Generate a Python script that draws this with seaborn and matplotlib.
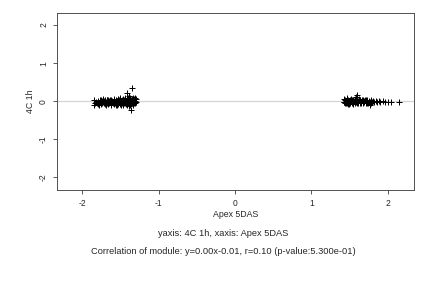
import numpy as np
import pandas as pd
import matplotlib
matplotlib.use("Agg")
import matplotlib.pyplot as plt
import seaborn as sns

# ------------------------------------------------------------
# data (two clusters of module genes)
# ------------------------------------------------------------
left_x = [-1.85, -1.84, -1.83, -1.82, -1.80, -1.79, -1.78, -1.77, -1.76, -1.75,
          -1.74, -1.73, -1.72, -1.71, -1.70, -1.69, -1.68, -1.67, -1.66, -1.65,
          -1.64, -1.63, -1.62, -1.61, -1.60, -1.59, -1.58, -1.57, -1.56, -1.55,
          -1.54, -1.53, -1.52, -1.51, -1.50, -1.49, -1.48, -1.47, -1.46, -1.45,
          -1.44, -1.43, -1.42, -1.42, -1.41, -1.40, -1.39, -1.39, -1.38, -1.37,
          -1.37, -1.36, -1.35, -1.35, -1.34, -1.33, -1.32, -1.31, -1.36, -1.30,
          -1.81, -1.78, -1.75, -1.72, -1.70, -1.68, -1.65, -1.63, -1.60, -1.58,
          -1.55, -1.53, -1.51, -1.49, -1.47, -1.45, -1.43, -1.41, -1.40, -1.38,
          -1.36, -1.34, -1.33, -1.32, -1.31, -1.30, -1.48, -1.52, -1.57, -1.62,
          -1.66, -1.74, -1.44, -1.46, -1.50, -1.54, -1.56, -1.42, -1.39, -1.35,
          -1.33, -1.31]
left_y = [-0.09, 0.03, -0.06, -0.02, -0.07, 0.00, -0.04, 0.02, -0.08, -0.03,
          0.01, 0.05, -0.06, -0.01, 0.03, -0.09, -0.04, 0.02, -0.07, 0.00,
          0.04, -0.10, -0.03, 0.01, -0.06, 0.05, -0.08, -0.02, 0.03, -0.11,
          -0.05, 0.06, -0.01, -0.08, 0.07, -0.03, 0.02, -0.09, 0.04, -0.06,
          0.08, -0.02, 0.22, -0.10, 0.05, -0.04, 0.14, -0.12, 0.01, 0.09,
          -0.07, -0.03, 0.35, 0.06, -0.09, 0.03, -0.05, 0.08, -0.22, -0.01,
          -0.04, -0.09, 0.02, 0.00, -0.08, 0.04, -0.05, 0.02, -0.01, 0.04,
          0.00, -0.07, 0.04, -0.10, 0.05, 0.01, -0.08, -0.01, 0.07, -0.10,
          0.04, 0.00, -0.07, 0.05, -0.04, 0.06, -0.06, 0.03, -0.06, -0.07,
          0.03, -0.05, -0.04, -0.01, -0.04, 0.01, -0.09, 0.03, 0.02, -0.05,
          0.09, 0.01]

right_x = [1.42, 1.43, 1.44, 1.45, 1.46, 1.47, 1.48, 1.49, 1.50, 1.51,
           1.52, 1.53, 1.54, 1.55, 1.56, 1.57, 1.58, 1.58, 1.59, 1.60,
           1.60, 1.61, 1.62, 1.63, 1.64, 1.65, 1.66, 1.67, 1.68, 1.69,
           1.70, 1.71, 1.72, 1.73, 1.74, 1.75, 1.76, 1.77, 1.78, 1.79,
           1.80, 1.82, 1.84, 1.86, 1.88, 1.90, 1.93, 1.96, 2.00, 2.04,
           2.15, 1.43, 1.45, 1.47, 1.49, 1.51, 1.53, 1.55, 1.57, 1.59,
           1.61, 1.63, 1.65, 1.67, 1.69, 1.71, 1.73, 1.75, 1.78, 1.44,
           1.46, 1.48, 1.50, 1.52]
right_y = [-0.03, 0.05, -0.06, 0.00, 0.07, -0.04, 0.02, -0.07, 0.04, -0.02,
           0.01, -0.05, 0.03, -0.08, 0.00, 0.05, 0.10, -0.03, 0.02, 0.15,
           -0.06, 0.01, 0.06, -0.04, 0.02, -0.02, 0.04, -0.06, 0.01, -0.03,
           0.03, -0.05, 0.00, 0.02, -0.04, 0.01, -0.11, -0.02, 0.02, -0.03,
           0.00, -0.02, 0.01, -0.03, 0.00, -0.02, 0.01, -0.01, -0.02, -0.01,
           -0.01, -0.01, -0.05, 0.03, 0.00, -0.06, 0.02, -0.01, -0.05, -0.01,
           -0.04, 0.03, -0.06, 0.02, 0.01, 0.02, -0.06, -0.03, -0.05, 0.03,
           -0.02, -0.07, -0.01, 0.05]

x_label = "Apex 5DAS"
y_label = "4C 1h"
line1 = "yaxis: 4C 1h, xaxis: Apex 5DAS"
line2 = "Correlation of module: y=0.00x-0.01, r=0.10 (p-value:5.300e-01)"

df = pd.DataFrame({"x": left_x + right_x, "y": left_y + right_y})

# ------------------------------------------------------------
# figure
# ------------------------------------------------------------
sns.set_style("white")
plt.rcParams['font.family'] = ['Liberation Sans', 'DejaVu Sans']

fig = plt.figure(figsize=(6, 4), dpi=72)
ax = fig.add_axes([0.132, 0.340, 0.826, 0.615])

ax.axhline(0, color='#d3d3d3', linewidth=1.2, zorder=1)
sns.scatterplot(data=df, x="x", y="y", marker="+", color="black",
                s=30, linewidth=1.0, ax=ax, zorder=2)

ax.set_xlim(-2.33, 2.34)
ax.set_ylim(-2.34, 2.32)
ax.set_xticks([-2, -1, 0, 1, 2])
ax.set_yticks([-2, -1, 0, 1, 2])
ax.set_xticklabels(["-2", "-1", "0", "1", "2"])
ax.set_yticklabels(["-2", "-1", "0", "1", "2"], rotation=90, va='center')
ax.tick_params(direction='out', length=4, width=0.8, color='#333333',
               labelsize=8.5, pad=5, left=True, bottom=True)
for s in ax.spines.values():
    s.set_color('#444444')
    s.set_linewidth(0.9)

ax.set_xlabel(x_label, fontsize=8.8, labelpad=2)
ax.set_ylabel(y_label, fontsize=8.8, labelpad=4)

fig.text(0.516, 1 - 234 / 288, line1, ha='center', va='center', fontsize=9.3)
fig.text(0.516, 1 - 252 / 288, line2, ha='center', va='center', fontsize=9.3)

fig.savefig("out.png", dpi=72)
